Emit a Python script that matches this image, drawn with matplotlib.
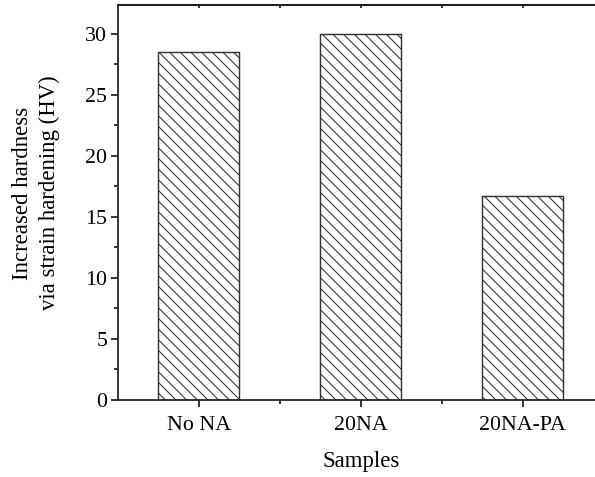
import numpy as np
import matplotlib
matplotlib.use("Agg")
import matplotlib.pyplot as plt
from matplotlib.ticker import MultipleLocator, FixedLocator

# -----------------------------
# DATA
# -----------------------------
samples = ["No NA", "20NA", "20NA-PA"]
hardness_increase = [28.5, 30.0, 16.7]

# -----------------------------
# STYLE
# -----------------------------
DPI = 128
plt.rcParams["font.family"] = ["Liberation Serif", "DejaVu Serif"]
plt.rcParams["hatch.linewidth"] = 0.6
plt.rcParams["hatch.color"] = "#444444"

fig = plt.figure(figsize=(595 / DPI, 477 / DPI), dpi=DPI)
ax_w = 603.6 - 118
ax_h = 400 - 4.7
ax = fig.add_axes([118 / 595, 77 / 477, ax_w / 595, ax_h / 477])

x = np.arange(1, len(samples) + 1)
ax.bar(x, hardness_increase, width=0.5, facecolor="white",
       edgecolor="#333333", linewidth=0.8, hatch="\\\\\\\\")

ax.set_xlim(0.5, 3.5)
ax.set_ylim(0, 32.4)

ax.set_xticks(x)
ax.set_xticklabels(samples)
ax.xaxis.set_minor_locator(FixedLocator([1.5, 2.5]))
ax.yaxis.set_major_locator(MultipleLocator(5))
ax.yaxis.set_minor_locator(MultipleLocator(2.5))

for s in ax.spines.values():
    s.set_linewidth(1.0)
    s.set_color("#222222")

ax.tick_params(axis="both", which="major", direction="out", length=4,
               width=1.0, labelsize=12.3, color="#222222", pad=2)
ax.tick_params(axis="x", which="major", pad=4.8)
ax.tick_params(axis="both", which="minor", direction="out", length=2.3,
               width=1.0, color="#222222")

# mirrored ticks on top edge
top = ax.secondary_xaxis("top")
top.set_xticks(x)
top.xaxis.set_minor_locator(FixedLocator([1.5, 2.5]))
top.tick_params(which="both", direction="in", length=1.5, width=1.0,
                labeltop=False, color="#222222")
top.spines["top"].set_linewidth(1.0)

ax.set_xlabel("Samples", fontsize=12.8)
ax.xaxis.set_label_coords((361 - 118) / ax_w, -(461 - 400) / ax_h)
ax.xaxis.label.set_va("center")

ax.set_ylabel("Increased hardness\nvia strain hardening (HV)", fontsize=12.8,
              linespacing=1.32)
ax.yaxis.set_label_coords((36 - 118) / ax_w, (400 - 193) / ax_h)
ax.yaxis.label.set_va("center")

fig.savefig("out.png", dpi=DPI, facecolor="white")
